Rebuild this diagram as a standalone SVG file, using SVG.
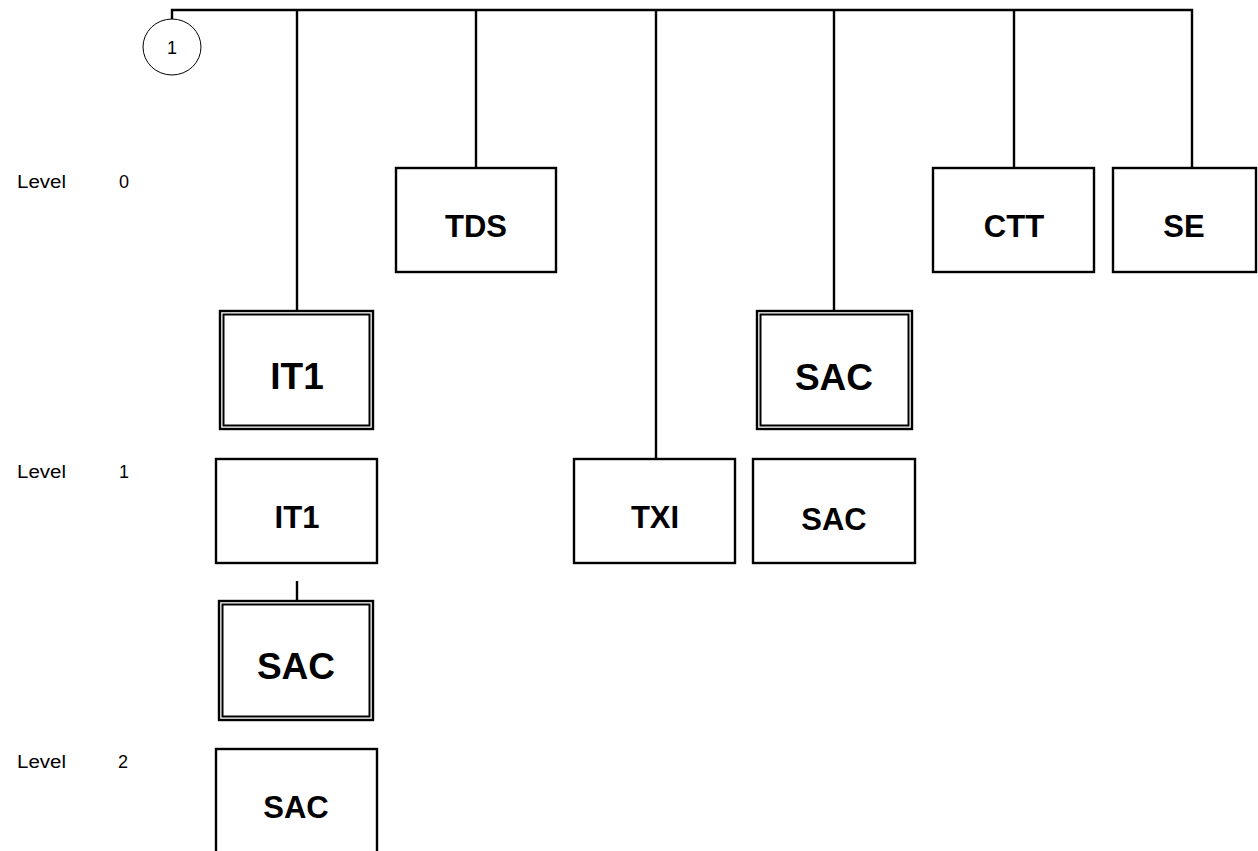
<svg xmlns="http://www.w3.org/2000/svg" width="1258" height="851" viewBox="0 0 1258 851">
<style>
.box{fill:#fff;stroke:#000;stroke-width:2.4}
.in{fill:none;stroke:#000;stroke-width:2}
.lbl{font-family:"Liberation Sans",Arial,sans-serif;font-weight:bold;fill:#000;text-anchor:middle}
.p{font-size:31px}
.d{font-size:37px}
.lv{font-family:"Liberation Sans",Arial,sans-serif;font-size:18px;fill:#000}
.c{fill:none;stroke:#000;stroke-width:2.4}
</style>
<rect width="1258" height="851" fill="#fff"/>
<g id="connectors" class="c">
<polyline points="172,19 172,10 1192,10 1192,168"/>
<line x1="297" y1="10" x2="297" y2="311"/>
<line x1="476" y1="10" x2="476" y2="168"/>
<line x1="656" y1="10" x2="656" y2="459"/>
<line x1="834" y1="10" x2="834" y2="311"/>
<line x1="1014" y1="10" x2="1014" y2="168"/>
<line x1="297" y1="581" x2="297" y2="601"/>
</g>
<g id="n1">
<ellipse cx="172" cy="47" rx="29" ry="28" fill="#fff" stroke="#000" stroke-width="1"/>
<text x="172" y="54" text-anchor="middle" font-family="Liberation Sans,Arial,sans-serif" font-size="18">1</text>
</g>
<g id="levels">
<text class="lv" x="17" y="188" textLength="49" lengthAdjust="spacingAndGlyphs">Level</text>
<text class="lv" x="119" y="188">0</text>
<text class="lv" x="17" y="478" textLength="49" lengthAdjust="spacingAndGlyphs">Level</text>
<text class="lv" x="119" y="478">1</text>
<text class="lv" x="17" y="768" textLength="49" lengthAdjust="spacingAndGlyphs">Level</text>
<text class="lv" x="118" y="768">2</text>
</g>
<g id="tds"><rect class="box" x="396" y="168" width="160" height="104"/><text class="lbl p" x="476" y="237">TDS</text></g>
<g id="ctt"><rect class="box" x="933" y="168" width="161" height="104"/><text class="lbl p" x="1014" y="237">CTT</text></g>
<g id="se"><rect class="box" x="1113" y="168" width="143" height="104"/><text class="lbl p" x="1184" y="237">SE</text></g>
<g id="it1d"><rect class="box" x="220" y="311" width="153" height="118"/><rect class="in" x="223.5" y="314.5" width="146" height="111"/><text class="lbl d" x="297" y="389">IT1</text></g>
<g id="sacd1"><rect class="box" x="757" y="311" width="155" height="118"/><rect class="in" x="760.5" y="314.5" width="148" height="111"/><text class="lbl d" x="834" y="390">SAC</text></g>
<g id="it1"><rect class="box" x="216" y="459" width="161" height="104"/><text class="lbl p" x="297" y="528">IT1</text></g>
<g id="txi"><rect class="box" x="574" y="459" width="161" height="104"/><text class="lbl p" x="655" y="528">TXI</text></g>
<g id="sac1"><rect class="box" x="753" y="459" width="162" height="104"/><text class="lbl p" x="834" y="530">SAC</text></g>
<g id="sacd2"><rect class="box" x="219" y="601" width="154" height="119"/><rect class="in" x="222.5" y="604.5" width="147" height="112"/><text class="lbl d" x="296" y="679">SAC</text></g>
<g id="sac2"><rect class="box" x="216" y="749" width="161" height="120"/><text class="lbl p" x="296" y="818">SAC</text></g>
</svg>
